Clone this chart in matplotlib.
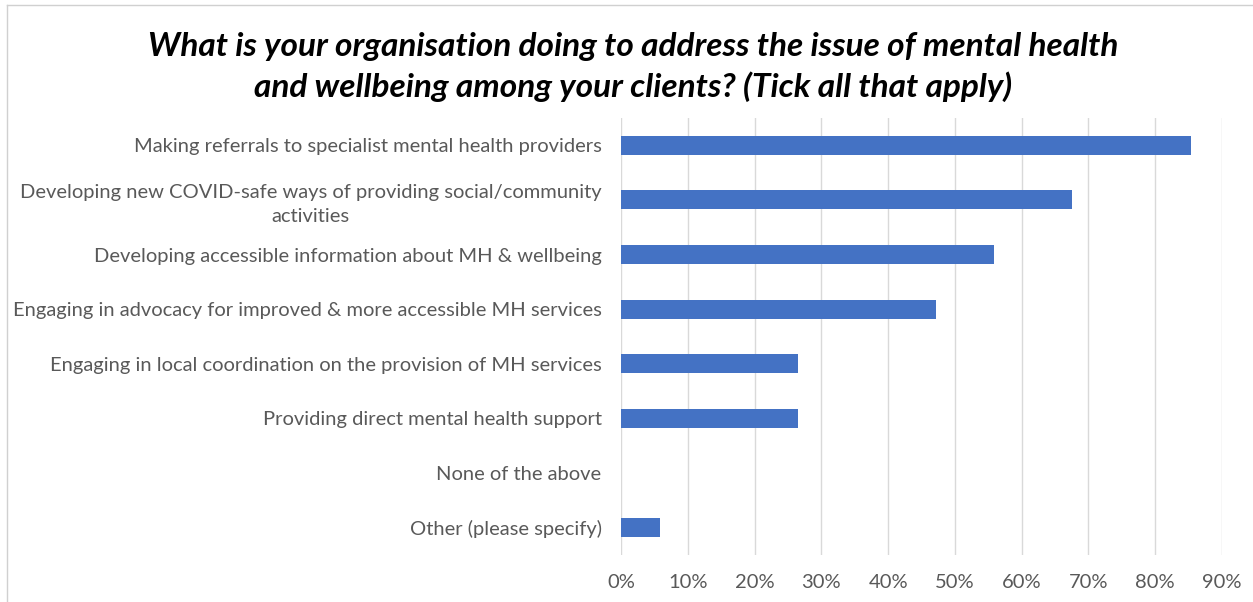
import matplotlib.pyplot as plt
import matplotlib.ticker as mticker
from matplotlib.lines import Line2D

# respuestas de la encuesta (fraccion de organizaciones)
categorias = [
    "Making referrals to specialist mental health providers",
    "Developing new COVID-safe ways of providing social/community\nactivities",
    "Developing accessible information about MH & wellbeing",
    "Engaging in advocacy for improved & more accessible MH services",
    "Engaging in local coordination on the provision of MH services",
    "Providing direct mental health support",
    "None of the above",
    "Other (please specify)",
]
valores = [0.853, 0.676, 0.559, 0.471, 0.265, 0.265, 0.0, 0.059]
ticks_x = [0, 0.1, 0.2, 0.3, 0.4, 0.5, 0.6, 0.7, 0.8, 0.9]

titulo = ("What is your organisation doing to address the issue of mental health\n"
          "and wellbeing among your clients? (Tick all that apply)")

W, H = 1253, 602
fig = plt.figure(figsize=(W / 100, H / 100), dpi=100)
ax = fig.add_axes([621 / W, 1 - 555 / H, (1222 - 621) / W, (555 - 118) / H])

pos = list(range(len(categorias)))
ax.barh(pos, valores, height=0.35, color="#4472C4", zorder=3)
ax.set_ylim(len(categorias) - 0.5, -0.5)
ax.set_xlim(0, 0.9)

ax.set_xticks(ticks_x)
ax.xaxis.set_major_formatter(mticker.PercentFormatter(1.0, decimals=0))
ax.set_yticks(pos)
ax.set_yticklabels(categorias)
for lab in ax.get_yticklabels():
    lab.set_multialignment("center")
    lab.set_linespacing(1.5)

ax.tick_params(axis="both", length=0, labelsize=14.5, labelcolor="#595959")
ax.tick_params(axis="x", pad=14)
ax.tick_params(axis="y", pad=14)
for lab in ax.get_xticklabels() + ax.get_yticklabels():
    lab.set_fontfamily("Lato")

ax.grid(axis="x", color="#d9d9d9", linewidth=1, zorder=0)
ax.grid(axis="y", visible=False)
for s in ax.spines.values():
    s.set_visible(False)

fig.text(633 / W, 1 - 67 / H, titulo, ha="center", va="center",
         fontsize=24, fontweight="bold", fontstyle="italic",
         family="Lato", linespacing=1.38, color="black")

# marco del grafico (solo arriba e izquierda visibles)
fig.add_artist(Line2D([7 / W, 7 / W], [0, 1 - 5 / H], transform=fig.transFigure,
                      color="#d0d0d0", linewidth=1))
fig.add_artist(Line2D([7 / W, 1], [1 - 5 / H, 1 - 5 / H], transform=fig.transFigure,
                      color="#d0d0d0", linewidth=1))

fig.savefig("out.png", dpi=100)
